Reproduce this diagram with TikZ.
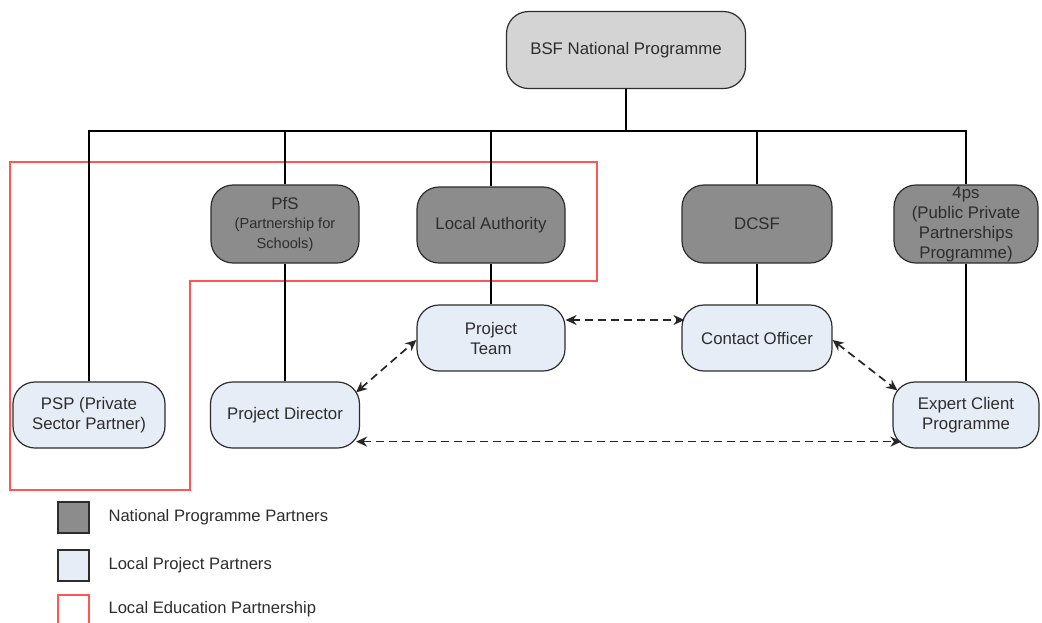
\documentclass[tikz,border=0pt]{standalone}
\usepackage{fontspec}
\setmainfont{Liberation Sans}
\usetikzlibrary{arrows.meta,positioning}
\definecolor{natgray}{RGB}{140,140,140}
\definecolor{topgray}{RGB}{212,212,212}
\definecolor{localblue}{RGB}{230,237,247}
\definecolor{lepred}{RGB}{255,85,85}
\definecolor{inkgray}{RGB}{45,45,45}
\tikzset{
    partner/.style={draw=inkgray, line width=1.2pt, rounded corners=22pt, align=center,
        text=inkgray, font=\fontsize{16.8}{20}\selectfont, inner sep=1pt},
    topbox/.style={partner, fill=topgray, minimum width=239pt, minimum height=77pt},
    natbox/.style={partner, fill=natgray, minimum width=148pt, minimum height=78pt},
    localbox/.style={partner, fill=localblue, minimum width=148pt, minimum height=66pt},
    tie/.style={draw=black, line width=1.7pt},
    link/.style={draw=black!85, line width=1.7pt, dash pattern=on 8pt off 5pt,
        {Stealth[length=11pt,width=10pt]}-{Stealth[length=11pt,width=10pt]}},
    keybox/.style={draw=inkgray, line width=1.2pt, minimum width=31pt, minimum height=31pt, inner sep=0pt},
    keytext/.style={anchor=west, text=inkgray, font=\fontsize{16.6}{19}\selectfont}
}
\newcommand{\subline}{\fontsize{14.6}{18}\selectfont}
\begin{document}
\begin{tikzpicture}[x=1pt, y=-1pt]
    \useasboundingbox[fill=white] (0,0) rectangle (1042,622);

    % Local Education Partnership outline
    \draw[lepred, line width=1.8pt] (10,162) -- (597,162) -- (597,281) -- (190,281)
        -- (190,490) -- (10,490) -- cycle;

    % National programme
    \node[topbox] (bsf) at (626,50) {BSF National Programme};

    % National programme partners
    \node[natbox] (pfs) at (285,224) {PfS\\[-1pt]\subline (Partnership for\\\subline Schools)};
    \node[natbox, minimum height=76pt] (la) at (491,225) {Local Authority};
    \node[natbox, minimum width=150pt] (dcsf) at (757,224) {DCSF};
    \node[natbox, minimum width=144pt] (fourps) at (966,224)
        {4ps\\(Public Private\\Partnerships\\Programme)};

    % Local project partners
    \node[localbox, minimum width=152pt] (psp) at (89,415) {PSP (Private\\Sector Partner)};
    \node[localbox, minimum width=149pt] (pd) at (285,415) {Project Director};
    \node[localbox] (pt) at (491,338) {Project\\Team};
    \node[localbox, minimum width=150pt] (co) at (757,338) {Contact Officer};
    \node[localbox, minimum width=146pt] (ecp) at (966,415) {Expert Client\\Programme};

    % Hierarchy
    \coordinate (bus) at (626,131);
    \draw[tie] (bsf) -- (bus);
    \draw[tie] (psp.north) |- (bus) -| (fourps.north);
    \draw[tie] (pfs.north) -- (pfs.north |- bus);
    \draw[tie] (la.north) -- (la.north |- bus);
    \draw[tie] (dcsf.north) -- (dcsf.north |- bus);
    \draw[tie] (pfs) -- (pd);
    \draw[tie] (la) -- (pt);
    \draw[tie] (dcsf) -- (co);
    \draw[tie] (fourps) -- (ecp);

    % Working links
    \draw[link] ([yshift=18pt]pt.east) -- ([xshift=3pt,yshift=18pt]co.west);
    \draw[link] ([xshift=-4pt,yshift=-11pt]pd.north east) -- ([yshift=-2pt]pt.west);
    \draw[link] ([yshift=-2pt]co.east) -- ([xshift=5pt,yshift=-9pt]ecp.north west);
    \draw[link] ([xshift=-4pt,yshift=7pt]pd.south east) -- ([xshift=9pt,yshift=7pt]ecp.south west);

    % Key
    \node[keybox, fill=natgray] (keynat) at (73.5,517.5) {};
    \node[keybox, fill=localblue] (keyloc) at (73.5,565.5) {};
    \node[keybox, draw=lepred, line width=1.6pt, minimum height=36pt] (keylep) at (73.5,613) {};
    \node[keytext] (txtnat) at (105,517) {National Programme Partners};
    \node[keytext] (txtloc) at (105,565) {Local Project Partners};
    \node[keytext] (txtlep) at (105,609) {Local Education Partnership};
\end{tikzpicture}
\end{document}
